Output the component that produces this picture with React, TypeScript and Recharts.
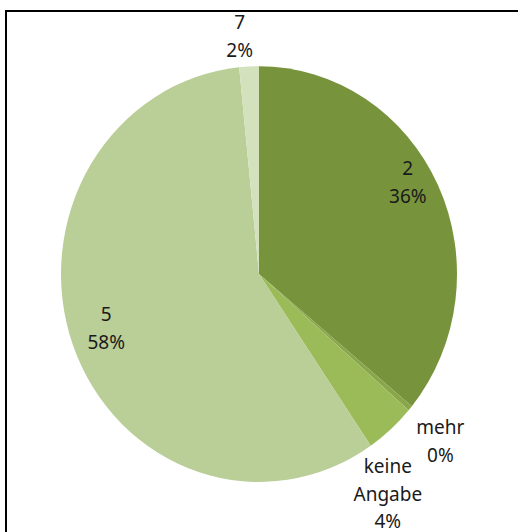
import React from "react";
import { PieChart, Pie, Cell } from "recharts";

const categories = ["2", "mehr", "keine Angabe", "5", "7"];
const values = [36, 0.4, 4.1, 58, 1.6];
const percentLabels = ["36%", "0%", "4%", "58%", "2%"];
const colors = ["#77933C", "#8AA64A", "#9BBB59", "#BACE97", "#D3E1BC"];

// label placement config (radius from center, angle shift in degrees, line breaks)
const labelRadius = [173, 241, 245, 161, 228];
const labelAngleShift = [5.4, -1, -10, -1.7, 2];
const labelLines = [["2"], ["mehr"], ["keine", "Angabe"], ["5"], ["7"]];

const data = categories.map((c, i) => ({ name: c, value: values[i] }));

const SCALE_Y = 1.05;
const RAD = Math.PI / 180;

const renderLabel = (props: any) => {
  const { cx, cy, midAngle, index } = props;
  const a = (midAngle + labelAngleShift[index]) * RAD;
  const r = labelRadius[index];
  const x = cx + r * Math.cos(a);
  const y = cy - r * Math.sin(a);
  const lines = [...labelLines[index], percentLabels[index]];
  const lh = 26.5;
  return (
    <text
      key={`lbl-${index}`}
      x={x}
      y={y}
      textAnchor="middle"
      fill="#1a1a1a"
      fontSize={19}
      fontFamily="'Noto Sans', sans-serif"
    >
      {lines.map((t, i) => (
        <tspan key={i} x={x} y={y + (i - (lines.length - 1) / 2) * lh} dominantBaseline="central">
          {t}
        </tspan>
      ))}
    </text>
  );
};

export default function App() {
  return (
    <div
      style={{
        position: "absolute",
        left: 0,
        top: 0,
        width: 518,
        height: 532,
        overflow: "hidden",
        background: "#fff",
      }}
    >
      <div
        style={{
          position: "absolute",
          left: 5,
          top: 10,
          width: 600,
          height: 600,
          border: "2px solid #000",
        }}
      />
      <div
        style={{
          position: "absolute",
          left: 0,
          top: 0,
          transform: `scaleY(${SCALE_Y})`,
          transformOrigin: "0 0",
        }}
      >
        <PieChart width={518} height={507} margin={{ top: 0, right: 0, bottom: 0, left: 0 }}>
          <Pie
            data={data}
            dataKey="value"
            nameKey="name"
            cx={259}
            cy={261}
            outerRadius={198}
            startAngle={90}
            endAngle={-270}
            stroke="none"
            isAnimationActive={false}
            label={renderLabel}
            labelLine={false}
          >
            {data.map((d, i) => (
              <Cell key={d.name} fill={colors[i]} />
            ))}
          </Pie>
        </PieChart>
      </div>
    </div>
  );
}
